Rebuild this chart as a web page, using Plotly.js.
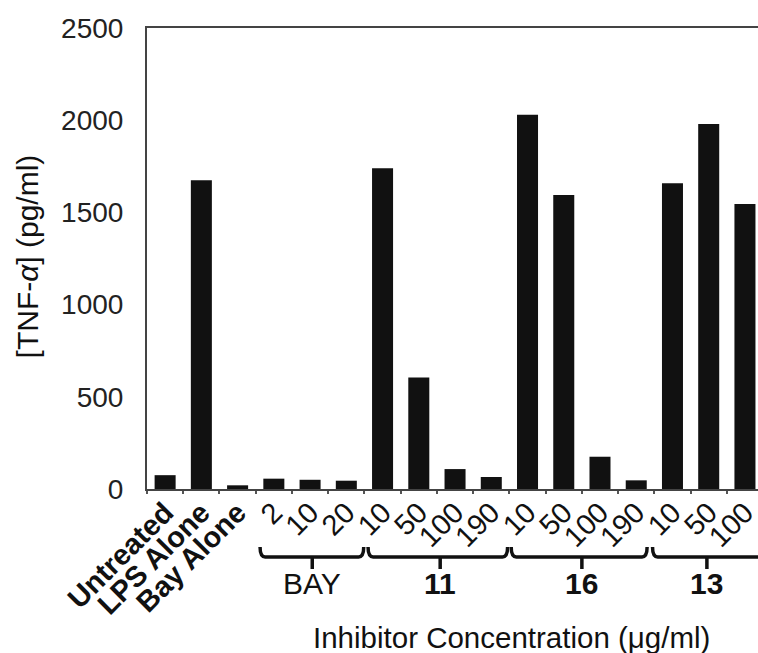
<!DOCTYPE html>
<html>
<head>
<meta charset="utf-8">
<script src="https://cdn.plot.ly/plotly-3.0.1.min.js"></script>
<style>html,body{margin:0;padding:0;background:#fff;}#chart{width:758px;height:653px;}</style>
</head>
<body>
<div id="chart"></div>
<script>
// Data
var positions = [0,1,2,3,4,5,6,7,8,9,10,11,12,13,14,15,16];
var tickLabels = ["<b>Untreated</b>","<b>LPS Alone</b>","<b>Bay Alone</b>","2","10","20","10","50","100","190","10","50","100","190","10","50","100"];
var tnfValues = [75,1675,20,56,50,45,1740,605,108,65,2030,1595,175,47,1658,1980,1545];
var groupNames = ["BAY","11","16","13"];
var groupStart = [2.62,5.6,9.55,13.45];
var groupEnd = [5.48,9.45,13.3,16.8];
var groupCenter = [4.06,7.59,11.5,14.95];
var groupBold = [false,true,true,true];

var FONT = "Liberation Sans, Arial, sans-serif";

var shapes = [];
var annotations = [];
var yTop = -0.126, yH = -0.1475, yBot = -0.1735;
for (var i = 0; i < groupNames.length; i++) {
  var x0 = groupStart[i], x1 = groupEnd[i], xc = groupCenter[i];
  var c = 0.14;
  var p = "M " + x0 + "," + yTop + " Q " + x0 + "," + yH + " " + (x0 + c) + "," + yH +
          " L " + (x1 - c) + "," + yH + " Q " + x1 + "," + yH + " " + x1 + "," + yTop +
          " M " + xc + "," + yH + " L " + xc + "," + yBot;
  shapes.push({type: "path", xref: "x", yref: "paper", path: p, line: {color: "#111", width: 3.5}});
  annotations.push({
    xref: "x", yref: "paper", x: xc, y: -0.204, xanchor: "center", yanchor: "middle",
    text: groupNames[i], showarrow: false,
    font: {family: FONT, size: 30, color: "#111", weight: groupBold[i] ? "bold" : "normal"}
  });
}
annotations.push({
  xref: "paper", yref: "paper", x: 0.597, y: -0.323, xanchor: "center", yanchor: "middle",
  text: "Inhibitor Concentration (μg/ml)", showarrow: false,
  font: {family: FONT, size: 29.5, color: "#111"}
});
annotations.push({
  xref: "paper", yref: "paper", x: -0.196, y: 0.505, xanchor: "center", yanchor: "middle",
  text: "[TNF-<i>α</i>] (pg/ml)", showarrow: false, textangle: -90,
  font: {family: FONT, size: 30, color: "#111"}
});

var trace = {
  type: "bar", x: positions, y: tnfValues, width: 0.58,
  marker: {color: "#111", line: {width: 0}}, hoverinfo: "skip"
};

var layout = {
  width: 758, height: 653,
  margin: {l: 147, r: 0, t: 28, b: 164},
  paper_bgcolor: "#fff", plot_bgcolor: "#fff",
  showlegend: false,
  xaxis: {
    range: [-0.5, 16.36], tickmode: "array", tickvals: positions, ticktext: tickLabels,
    tickangle: -45, ticks: "", showgrid: false, zeroline: false,
    showline: true, mirror: true, linecolor: "#444", linewidth: 2,
    ticklabeloverflow: "allow", ticklabelstandoff: -7,
    tickfont: {family: FONT, size: 29, color: "#111"},
    minor: {tickmode: "linear", tick0: 0.5, dtick: 1, ticks: "outside", ticklen: 3, tickwidth: 2, tickcolor: "#555"}
  },
  yaxis: {
    range: [0, 2500], tickvals: [0,500,1000,1500,2000,2500],
    ticks: "", showgrid: false, zeroline: false,
    showline: true, linecolor: "#444", linewidth: 2,
    ticklabelstandoff: 16,
    tickfont: {family: FONT, size: 28, color: "#222"}
  },
  shapes: shapes,
  annotations: annotations
};

Plotly.newPlot("chart", [trace], layout, {staticPlot: true, displayModeBar: false});
</script>
</body>
</html>
